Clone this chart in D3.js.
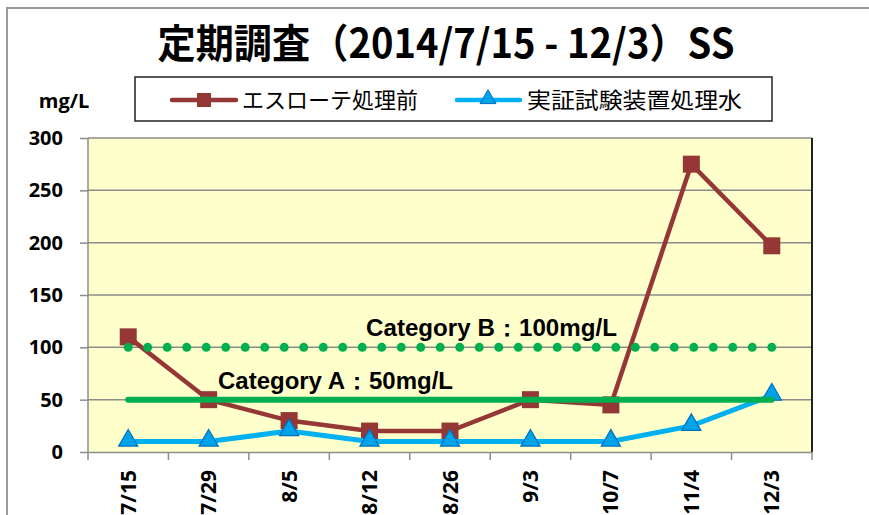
<!DOCTYPE html>
<html>
<head>
<meta charset="utf-8">
<script src="https://cdn.jsdelivr.net/npm/d3@7"></script>
<style>
  body { margin: 0; background: #fff; }
  svg text { fill: #000; }
</style>
</head>
<body>
<div id="chart"></div>
<script>
// data
var dates = ["7/15", "7/29", "8/5", "8/12", "8/26", "9/3", "10/7", "11/4", "12/3"];
var before = [110, 50, 30, 20, 20, 50, 45, 275, 197];
var treated = [10, 10, 20, 10, 10, 10, 10, 25, 54];
var yTicks = [0, 50, 100, 150, 200, 250, 300];
var seriesNames = ["エスローテ処理前", "実証試験装置処理水"];
var limitA = 50, limitB = 100;

function init() {
    var w = 869, h = 515;
    var margin = { top: 138, right: 57, bottom: 63, left: 88 };
    var width = w - margin.left - margin.right;
    var height = h - margin.top - margin.bottom;

    var svg = d3.select("#chart").append("svg")
        .attr("width", w).attr("height", h);

    // outer chart frame
    svg.append("path")
        .attr("d", "M7,515V8H869")
        .attr("fill", "none").attr("stroke", "#9a9a9a").attr("stroke-width", 2);

    // title
    svg.append("text")
        .attr("x", 446).attr("y", 58)
        .attr("text-anchor", "middle")
        .attr("textLength", 577).attr("lengthAdjust", "spacingAndGlyphs")
        .style("font-family", "'Noto Sans CJK JP', sans-serif")
        .style("font-weight", "bold").style("font-size", "40px")
        .text("定期調査（2014/7/15 - 12/3）SS");

    svg.append("text")
        .attr("x", 64).attr("y", 108).attr("text-anchor", "middle")
        .style("font-family", "'Open Sans', sans-serif")
        .style("font-weight", "bold").style("font-size", "20px")
        .text("mg/L");

    var g = svg.append("g")
        .attr("transform", "translate(" + margin.left + "," + margin.top + ")");

    var x = d3.scaleBand().domain(dates).range([0, width]);
    var y = d3.scaleLinear().domain([0, 300]).range([height, 0]);
    var cx = function (d) { return x(d) + x.bandwidth() / 2; };

    // plot area
    g.append("rect")
        .attr("width", width).attr("height", height)
        .attr("fill", "#ffffcc");

    // gridlines
    g.append("g").selectAll("line")
        .data(yTicks.filter(function (d) { return d > 0; }))
        .enter().append("line")
        .attr("x1", 0).attr("x2", width)
        .attr("y1", function (d) { return y(d); })
        .attr("y2", function (d) { return y(d); })
        .attr("stroke", "#8c8c8c").attr("stroke-width", 1.5);

    g.append("line")
        .attr("x1", width).attr("x2", width).attr("y1", 0).attr("y2", height)
        .attr("stroke", "#222").attr("stroke-width", 2);
    g.append("line")
        .attr("x1", 0).attr("x2", 0).attr("y1", 0).attr("y2", height)
        .attr("stroke", "#8c8c8c").attr("stroke-width", 1.5);

    // y axis
    var yAxis = g.append("g")
        .call(d3.axisLeft(y).tickValues(yTicks).tickSize(8).tickPadding(17));
    yAxis.select(".domain").remove();
    yAxis.selectAll(".tick line").attr("stroke", "#8c8c8c").attr("stroke-width", 1.5);
    yAxis.selectAll("text")
        .style("font-family", "'Open Sans', sans-serif")
        .style("font-weight", "bold").style("font-size", "20px");

    // x axis
    var xAxis = g.append("g")
        .attr("transform", "translate(0," + height + ")")
        .call(d3.axisBottom(x).tickSize(0).tickPadding(0));
    xAxis.select(".domain").attr("stroke", "#8c8c8c").attr("stroke-width", 1.5);
    xAxis.selectAll(".tick text")
        .attr("transform", "rotate(-90)")
        .attr("text-anchor", "end")
        .attr("x", -18).attr("y", 0).attr("dy", "0.36em")
        .style("font-family", "'Open Sans', sans-serif")
        .style("font-weight", "bold").style("font-size", "21px");
    // band boundary ticks
    g.append("g").selectAll("line")
        .data(d3.range(dates.length + 1))
        .enter().append("line")
        .attr("x1", function (i) { return i * x.bandwidth(); })
        .attr("x2", function (i) { return i * x.bandwidth(); })
        .attr("y1", height).attr("y2", height + 8)
        .attr("stroke", "#8c8c8c").attr("stroke-width", 1.5);

    var line = d3.line()
        .x(function (d, i) { return cx(dates[i]); })
        .y(function (d) { return y(d); });

    // before treatment
    g.append("path").datum(before)
        .attr("d", line).attr("fill", "none")
        .attr("stroke", "#953735").attr("stroke-width", 4.5);
    g.append("g").selectAll("rect")
        .data(before).enter().append("rect")
        .attr("x", function (d, i) { return cx(dates[i]) - 8.5; })
        .attr("y", function (d) { return y(d) - 8.5; })
        .attr("width", 17).attr("height", 17)
        .attr("fill", "#953735");

    // treated water
    g.append("path").datum(treated)
        .attr("d", line).attr("fill", "none")
        .attr("stroke", "#00b0f0").attr("stroke-width", 5);
    var tri = d3.symbol().type(d3.symbolTriangle).size(160);
    g.append("g").selectAll("path")
        .data(treated).enter().append("path")
        .attr("d", tri)
        .attr("transform", function (d, i) { return "translate(" + cx(dates[i]) + "," + (y(d) - 1) + ")"; })
        .attr("fill", "#00a2e8").attr("stroke", "#0070c0").attr("stroke-width", 1.2);

    // limit lines
    var x0 = cx(dates[0]), x1 = cx(dates[dates.length - 1]);
    g.append("line")
        .attr("x1", x0).attr("x2", x1)
        .attr("y1", y(limitA)).attr("y2", y(limitA))
        .attr("stroke", "#00b050").attr("stroke-width", 6).attr("stroke-linecap", "round");
    var nDots = 33, gap = (x1 - x0) / nDots;
    g.append("g").selectAll("circle")
        .data(d3.range(nDots + 1))
        .enter().append("circle")
        .attr("cx", function (i) { return x0 + i * gap; })
        .attr("cy", y(limitB))
        .attr("r", 4.5)
        .attr("fill", "#00b050");

    g.append("text")
        .attr("x", 366 - margin.left).attr("y", 336 - margin.top)
        .attr("textLength", 251).attr("lengthAdjust", "spacingAndGlyphs")
        .style("font-family", "'Liberation Sans', Arial, sans-serif")
        .style("font-weight", "bold").style("font-size", "23px")
        .text("Category B：100mg/L");
    g.append("text")
        .attr("x", 218 - margin.left).attr("y", 389 - margin.top)
        .attr("textLength", 235).attr("lengthAdjust", "spacingAndGlyphs")
        .style("font-family", "'Liberation Sans', Arial, sans-serif")
        .style("font-weight", "bold").style("font-size", "23px")
        .text("Category A：50mg/L");

    // legend
    var legend = svg.append("g");
    legend.append("rect")
        .attr("x", 135).attr("y", 77).attr("width", 637).attr("height", 44)
        .attr("fill", "#fff").attr("stroke", "#222").attr("stroke-width", 1.5);
    legend.append("line")
        .attr("x1", 172).attr("x2", 236).attr("y1", 100).attr("y2", 100)
        .attr("stroke", "#953735").attr("stroke-width", 4.5).attr("stroke-linecap", "round");
    legend.append("rect")
        .attr("x", 197).attr("y", 93).attr("width", 14).attr("height", 14)
        .attr("fill", "#953735");
    legend.append("text")
        .attr("x", 242).attr("y", 108)
        .attr("textLength", 176).attr("lengthAdjust", "spacingAndGlyphs")
        .style("font-family", "'Noto Sans CJK JP', sans-serif").style("font-size", "22px")
        .text(seriesNames[0]);
    legend.append("line")
        .attr("x1", 457).attr("x2", 520).attr("y1", 100).attr("y2", 100)
        .attr("stroke", "#00b0f0").attr("stroke-width", 4.5).attr("stroke-linecap", "round");
    legend.append("path")
        .attr("d", d3.symbol().type(d3.symbolTriangle).size(110))
        .attr("transform", "translate(488,99)")
        .attr("fill", "#00a2e8").attr("stroke", "#0070c0").attr("stroke-width", 1);
    legend.append("text")
        .attr("x", 527).attr("y", 108)
        .attr("textLength", 215).attr("lengthAdjust", "spacingAndGlyphs")
        .style("font-family", "'Noto Sans CJK JP', sans-serif").style("font-size", "22px")
        .text(seriesNames[1]);
}
window.onload = init;
</script>
</body>
</html>
